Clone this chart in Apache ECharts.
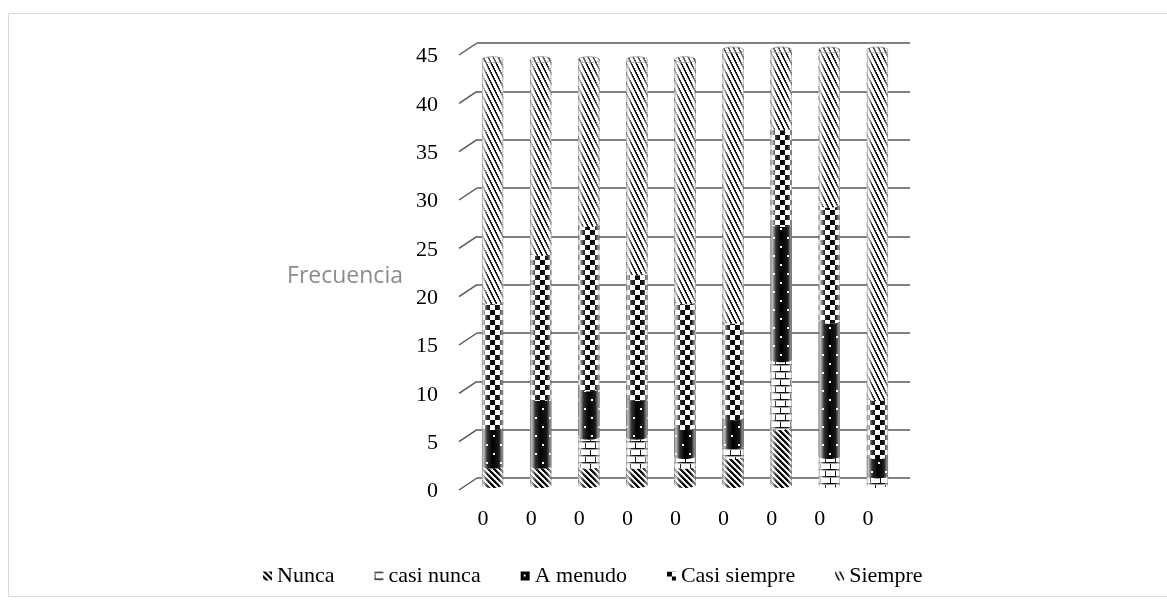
<!DOCTYPE html>
<html><head><meta charset="utf-8">
<script src="https://cdn.jsdelivr.net/npm/echarts@6/dist/echarts.min.js"></script>
<style>html,body{margin:0;padding:0;background:#fff}#c{width:1167px;height:600px}</style>
</head><body><div id="c"></div>
<script>
// ---- data ----
const categories = ['0', '0', '0', '0', '0', '0', '0', '0', '0'];
const seriesNames = ['Nunca', 'casi nunca', 'A menudo', 'Casi siempre', 'Siempre'];
const nunca       = [2, 2, 2, 2, 2, 3, 6, 0, 0];
const casiNunca   = [0, 0, 3, 3, 1, 1, 7, 3, 1];
const aMenudo     = [4, 7, 5, 4, 3, 3, 14, 14, 2];
const casiSiempre = [13, 15, 17, 13, 13, 10, 10, 12, 6];
const siempre     = [25, 20, 17, 22, 25, 28, 8, 16, 36];
const yTicks = [0, 5, 10, 15, 20, 25, 30, 35, 40, 45];
const axisName = 'Frecuencia';

// ---- patterns ----
function makeTile(w, h, fn) {
  const c = document.createElement('canvas');
  c.width = w; c.height = h;
  const ctx = c.getContext('2d');
  const img = ctx.createImageData(w, h);
  for (let y = 0; y < h; y++) for (let x = 0; x < w; x++) {
    const v = fn(x, y);
    const g = Math.round(255 * (1 - v));
    const k = (y * w + x) * 4;
    img.data[k] = g; img.data[k + 1] = g; img.data[k + 2] = g; img.data[k + 3] = 255;
  }
  ctx.putImageData(img, 0, 0);
  return c;
}
const mod = (a, n) => ((a % n) + n) % n;
const tiles = [
  makeTile(6, 6, (x, y) => { const m = mod(x - y, 6); return m < 3 ? 1 : (m === 3 ? 0.3 : 0); }),
  makeTile(10, 14, (x, y) => {
    const r = y % 7;
    if (r === 0) return 1;
    if (r === 1) return 0.4;
    const jx = (y < 7) ? 0 : 5;
    if (x === jx) return 1;
    return 0;
  }),
  makeTile(14, 18, (x, y) => {
    if ((x === 3 || x === 4) && (y === 3 || y === 4)) return 0;
    if ((x === 10 || x === 11) && (y === 12 || y === 13)) return 0;
    return 1;
  }),
  makeTile(10, 10, (x, y) => ((Math.floor(x / 5) + Math.floor(y / 5)) % 2 === 0 ? 1 : 0)),
  makeTile(5, 10, (x, y) => { const m = mod(y - 2 * x, 10); return m < 3 ? 1 : (m === 3 ? 0.45 : 0); })
];
const patterns = tiles.map(t => ({ image: t, repeat: 'repeat' }));

// ---- stacked data built from arrays ----
const valueSets = [nunca, casiNunca, aMenudo, casiSiempre, siempre];
const stacked = valueSets.map(() => []);
for (let i = 0; i < categories.length; i++) {
  let acc = 0, topK = -1;
  valueSets.forEach((vs, k) => { if (vs[i] > 0) topK = k; });
  valueSets.forEach((vs, k) => {
    stacked[k].push([i, acc, acc + vs[i], k === topK ? 1 : 0]);
    acc += vs[i];
  });
}

const DX = -8.5, DY = 7, RY = 3;
function arcPts(cx, cy, rx, ry, t0, t1, n) {
  const pts = [];
  for (let j = 0; j <= n; j++) {
    const t = t0 + (t1 - t0) * j / n;
    pts.push([cx + rx * Math.cos(t), cy + ry * Math.sin(t)]);
  }
  return pts;
}
function shadeGrad() {
  return new echarts.graphic.LinearGradient(0, 0, 1, 0, [
    { offset: 0, color: 'rgba(150,150,150,0.9)' },
    { offset: 0.08, color: 'rgba(255,255,255,0.75)' },
    { offset: 0.25, color: 'rgba(255,255,255,0.2)' },
    { offset: 0.5, color: 'rgba(255,255,255,0)' },
    { offset: 0.8, color: 'rgba(255,255,255,0.1)' },
    { offset: 0.93, color: 'rgba(255,255,255,0.5)' },
    { offset: 1, color: 'rgba(140,140,140,0.9)' }
  ]);
}
function makeRender(k) {
  return function (params, api) {
    const i = api.value(0), s = api.value(1), e = api.value(2), isTop = api.value(3);
    if (e - s <= 0) return null;
    const p0 = api.coord([i, s]), p1 = api.coord([i, e]);
    const bw = api.size([1, 0])[0] * 0.44;
    const cx = p0[0] + DX, yb = p0[1] + DY, yt = p1[1] + DY, rx = bw / 2;
    const pts = arcPts(cx, yt, rx, RY, Math.PI, 0, 16).concat(arcPts(cx, yb, rx, RY, 0, Math.PI, 16));
    const children = [
      { type: 'polygon', shape: { points: pts }, style: { fill: patterns[k] } },
      { type: 'polygon', shape: { points: pts }, style: { fill: shadeGrad() } }
    ];
    if (isTop) {
      const cap = arcPts(cx, yt, rx, RY, 0, Math.PI * 2, 32);
      children.push({ type: 'polygon', shape: { points: cap }, style: { fill: patterns[k] } });
      children.push({ type: 'polygon', shape: { points: cap }, style: { fill: 'rgba(255,255,255,0.35)', stroke: 'rgba(120,120,120,0.7)', lineWidth: 0.8 } });
    }
    return { type: 'group', children };
  };
}

const serif = 'Liberation Serif, Times New Roman, serif';
const chart = echarts.init(document.getElementById('c'), null, { renderer: 'canvas' });
const series = [{
  type: 'custom', name: '__ticks', silent: true, z: 1,
  data: yTicks.map(v => [0, v]),
  renderItem: (params, api) => {
    const y = api.coord([0, api.value(1)])[1];
    const x0 = params.coordSys.x;
    return { type: 'line', shape: { x1: x0 - 18, y1: y + 12, x2: x0, y2: y }, style: { stroke: '#595959', lineWidth: 1.5 } };
  }
}];
seriesNames.forEach((name, k) => {
  series.push({
    type: 'custom', name, z: 3,
    itemStyle: { color: patterns[k] },
    encode: { x: 0, y: [1, 2] },
    data: stacked[k],
    renderItem: makeRender(k)
  });
});

chart.setOption({
  animation: false,
  backgroundColor: '#fff',
  graphic: [{
    type: 'rect', left: 6, top: 11, z: -10,
    shape: { x: 0, y: 0, width: 1165, height: 583 },
    style: { fill: 'none', stroke: '#d9d9d9', lineWidth: 1 }
  }],
  grid: { left: 477, right: 257, top: 43, bottom: 122, containLabel: false },
  legend: {
    data: seriesNames, top: 560, left: 258, itemWidth: 9, itemHeight: 9, itemGap: 40, icon: 'rect',
    textStyle: { fontFamily: serif, fontSize: 22, color: '#000' }
  },
  xAxis: {
    type: 'category', data: categories,
    axisLine: { show: false }, axisTick: { show: false },
    axisLabel: { margin: 30, fontFamily: serif, fontSize: 22, color: '#000', padding: [0, 36, 0, 0], interval: 0 }
  },
  yAxis: {
    type: 'value', min: 0, max: 45, interval: 5,
    name: axisName, nameLocation: 'middle', nameRotate: 0, nameGap: 132,
    nameTextStyle: { fontFamily: 'Open Sans', fontSize: 23, color: '#8c8c8c', align: 'center', verticalAlign: 'top', lineHeight: 32 },
    axisLine: { show: false }, axisTick: { show: false },
    axisLabel: { margin: 39, fontFamily: serif, fontSize: 22, color: '#000', verticalAlign: 'top', lineHeight: 27 },
    splitLine: { lineStyle: { color: '#595959', width: 1.5 } }
  },
  series
});
</script></body></html>
